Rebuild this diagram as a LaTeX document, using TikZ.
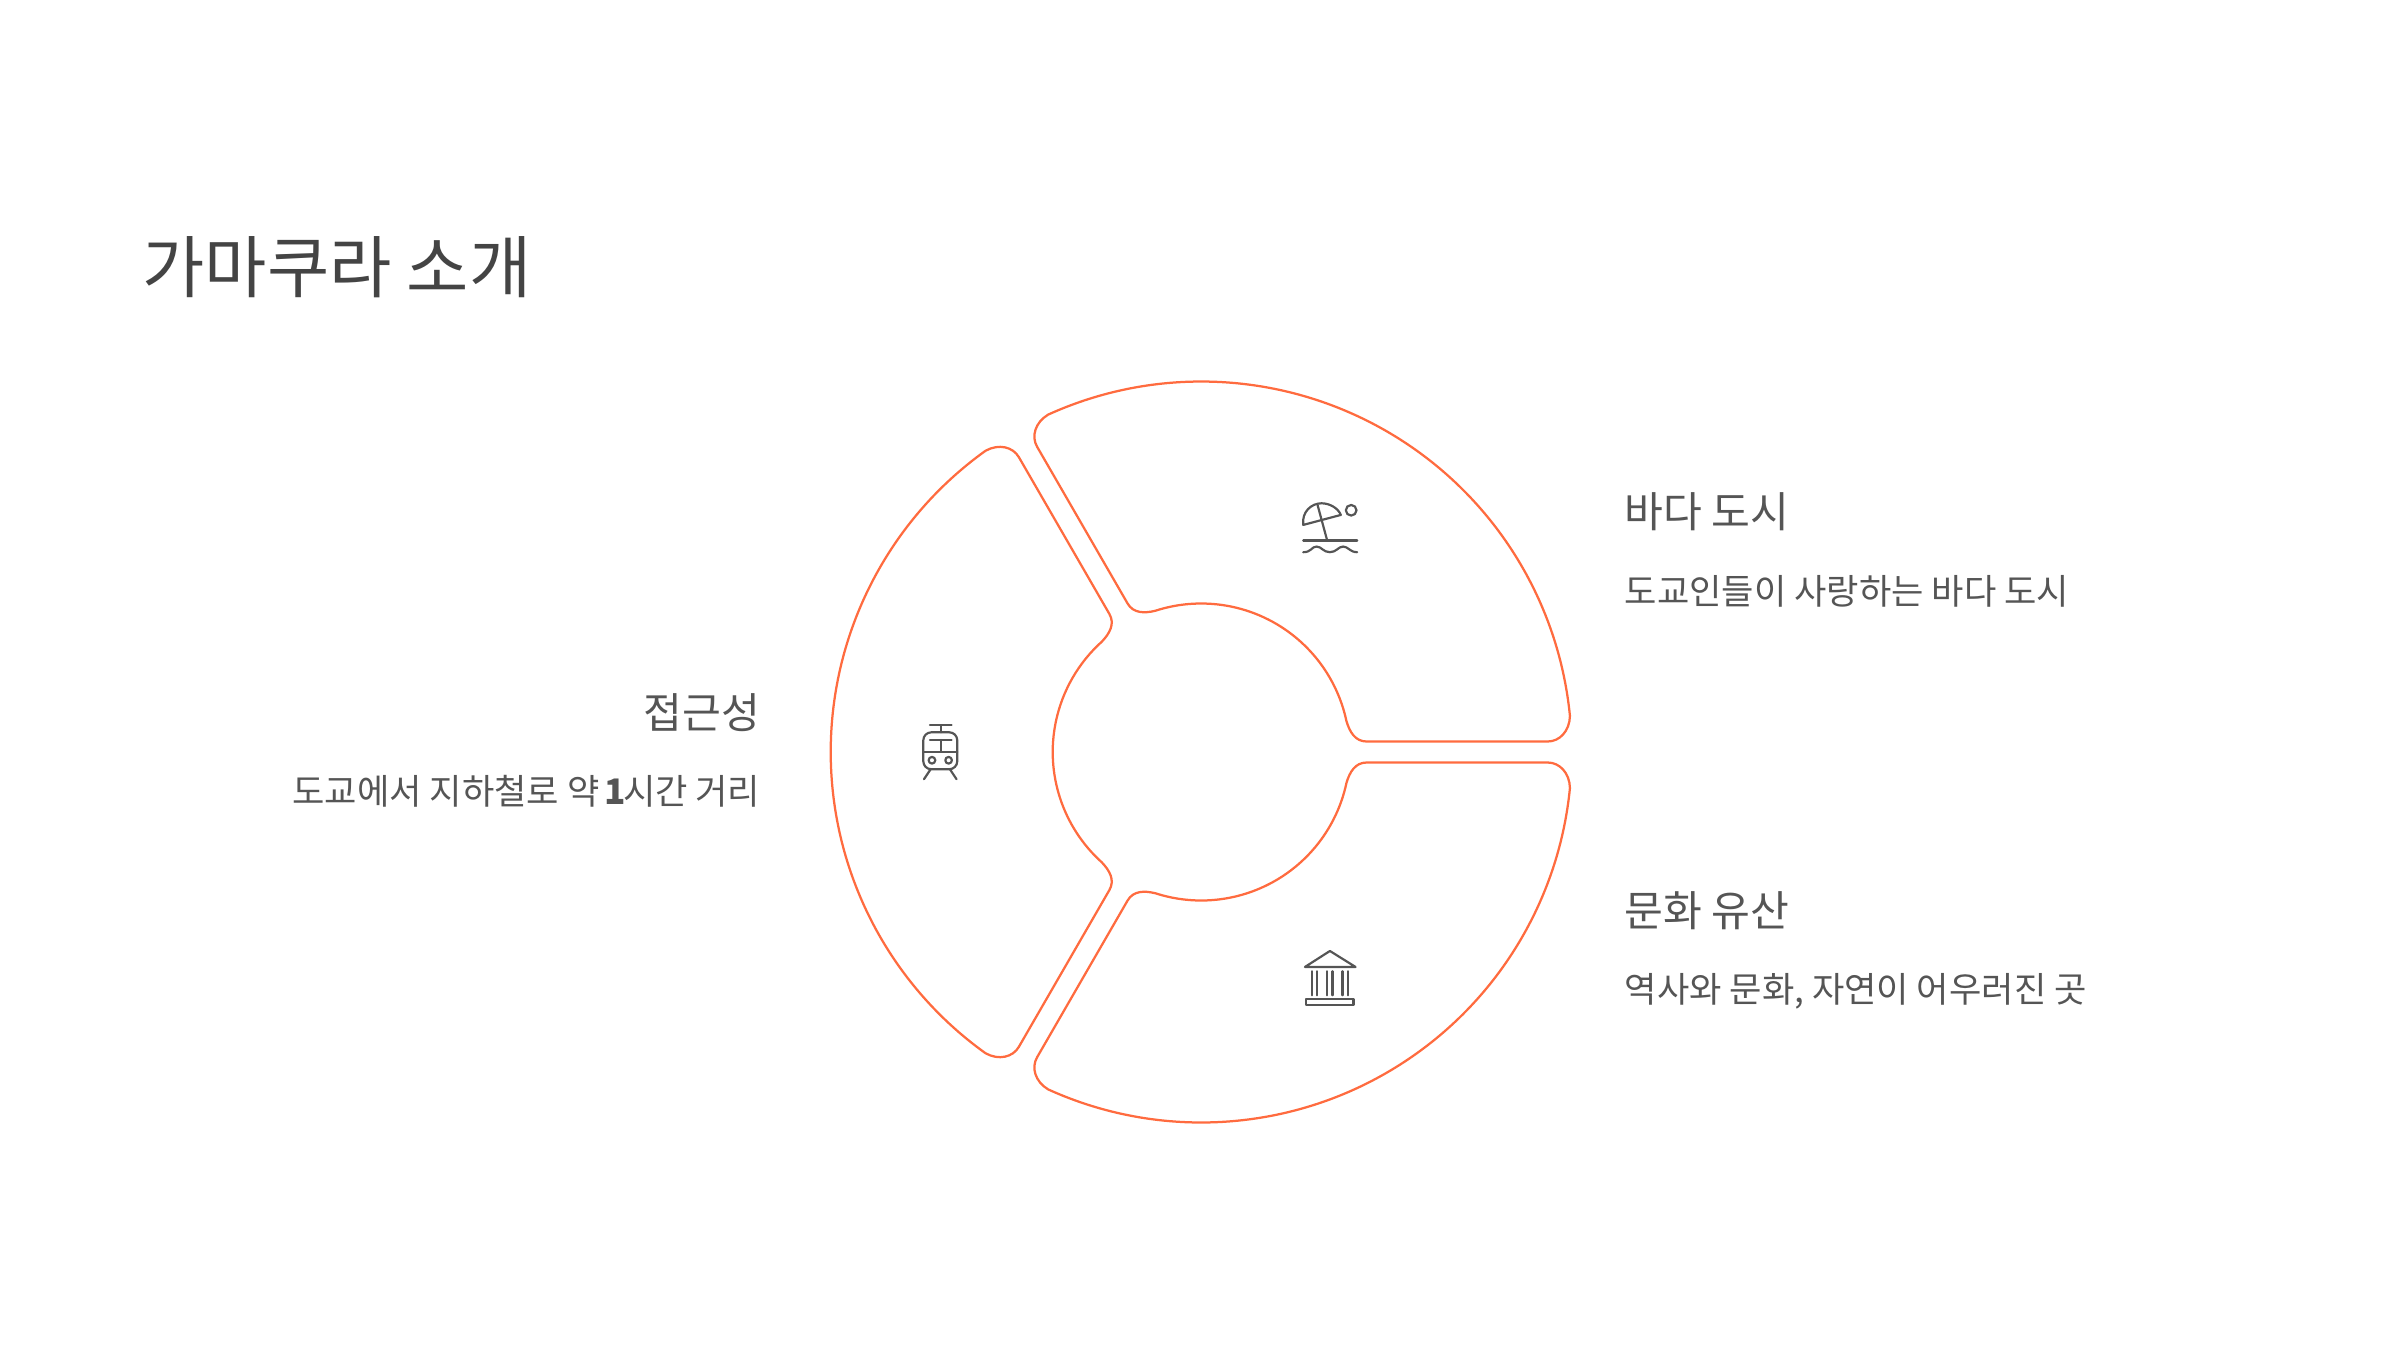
\documentclass[tikz,border=0pt]{standalone}
\usepackage{fontspec}
\setmainfont{Noto Sans CJK KR}
\usetikzlibrary{positioning, calc}
\definecolor{ringorange}{HTML}{FF6B3F}
\definecolor{titlegray}{HTML}{444444}
\definecolor{textgray}{HTML}{555555}
\tikzset{
  ringline/.style={ringorange, line width=0.64pt},
  iconline/.style={textgray, line width=0.62pt, line cap=round, line join=round},
  heading/.style={textgray, font=\fontsize{12}{14}\selectfont, inner sep=0pt, anchor=base west},
  subtext/.style={textgray, font=\fontsize{10}{12}\selectfont, inner sep=0pt, anchor=base west},
}
\begin{document}
\begin{tikzpicture}[x=0.01cm,y=0.01cm]
  \useasboundingbox (0,0) rectangle (2400,1350);
  % Ring of three segments
  \foreach \rot in {0,120,240} {
    \begin{scope}[shift={(1201.2,598)},rotate=\rot]
      \draw[ringline] (1.736:346.66) .. controls (1.678:358.65) and (3.266:369) .. (5.58:370.5)
        arc (5.58:114.42:370.5)
        .. controls (116.734:369) and (118.322:358.65) .. (118.264:346.66)
        -- (116.37:165.83)
        .. controls (116.1:154.36) and (112.33:149.84) .. (108:148.5)
        arc (108:12:148.5)
        .. controls (7.67:149.84) and (3.9:154.36) .. (3.63:165.83)
        -- cycle;
    \end{scope}
  }
  % Beach icon
  \begin{scope}[shift={(1240,880)},x=0.00333cm,y=-0.00333cm]
    \draw[iconline] (190,165) .. controls (185,125) and (215,100) .. (245,100)
      .. controls (270,100) and (295,115) .. (303,135) -- cycle;
    \draw[iconline] (233,105) -- (262,212);
    \draw[iconline] (190,212) -- (352,212);
    \draw[iconline] (190,247) .. controls (215,247) and (215,230) .. (230,230)
      .. controls (245,230) and (250,247) .. (270,247)
      .. controls (290,247) and (295,230) .. (310,230)
      .. controls (325,230) and (330,247) .. (352,247);
    \draw[iconline] (334,121) circle (16);
  \end{scope}
  % Museum icon
  \begin{scope}[shift={(1270,420)},x=0.00333cm,y=-0.00333cm]
    \draw[iconline] (105,111) -- (180,63) -- (257,111) -- cycle;
    \foreach \colx in {126,142,172,188,218,234}
      \draw[iconline] (\colx,124) -- (\colx,196);
    \draw[iconline] (109,208) rectangle (251,225);
  \end{scope}
  % Train icon
  \begin{scope}[shift={(900,640)},x=0.00333cm,y=-0.00333cm]
    \draw[iconline] (90,46) -- (155,46);
    \draw[iconline] (122,46) -- (122,67);
    \draw[iconline, rounded corners=0.8mm] (70,67) rectangle (172,178);
    \draw[iconline] (90,90) -- (155,90);
    \draw[iconline] (122,90) -- (122,125);
    \draw[iconline] (70,125) -- (172,125);
    \draw[iconline] (96,151) circle (10);
    \draw[iconline] (146,151) circle (10);
    \draw[iconline] (92,178) -- (72,208);
    \draw[iconline] (150,178) -- (170,208);
  \end{scope}
  % Texts
  \node[titlegray, font=\fontsize{19.25}{23}\selectfont, inner sep=0pt, anchor=base west] (title) at (142,1058) {가마쿠라 소개};
  \node[heading] (seahead) at (1624,822.5) {바다 도시};
  \node[subtext] (seatext) at (1624,746) {도교인들이 사랑하는 바다 도시};
  \node[heading] (culturehead) at (1624,423.5) {문화 유산};
  \node[subtext] (culturetext) at (1624,348) {역사와 문화, 자연이 어우러진 곳};
  \node[heading, anchor=base east] (accesshead) at (761,622) {접근성};
  \node[subtext, anchor=base east] (accesstext) at (761,546) {도교에서 지하철로 약\kern1.5pt{\bfseries 1}\kern-0.9pt시간 거리};
\end{tikzpicture}
\end{document}
